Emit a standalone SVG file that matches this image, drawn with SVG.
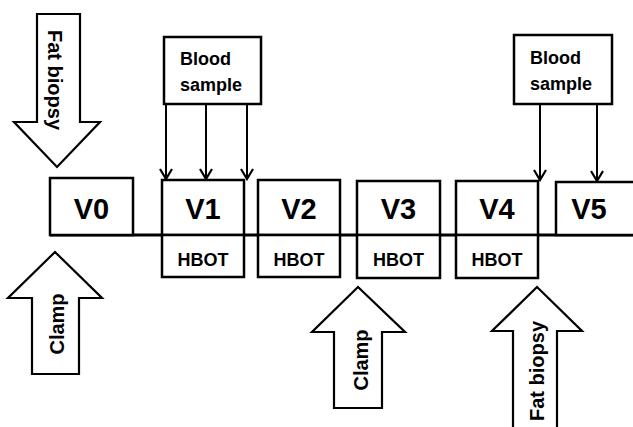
<svg xmlns="http://www.w3.org/2000/svg" width="633" height="427" viewBox="0 0 633 427">
<style>
.box{fill:#fff;stroke:#000;stroke-width:2.5}
.big{fill:#fff;stroke:#000;stroke-width:2.2;stroke-linejoin:miter}
.vt{font-family:"Liberation Sans",Arial,sans-serif;font-weight:bold;font-size:29px;text-anchor:middle;fill:#000}
.ht{font-family:"Liberation Sans",Arial,sans-serif;font-weight:bold;font-size:18px;text-anchor:middle;fill:#000}
.bt{font-family:"Liberation Sans",Arial,sans-serif;font-weight:bold;font-size:18px;fill:#000}
.at{font-family:"Liberation Sans",Arial,sans-serif;font-weight:bold;font-size:20px;text-anchor:middle;fill:#000}
.ln{stroke:#000;stroke-width:2;fill:none}
</style>
<defs>
<marker id="v" markerWidth="14" markerHeight="14" refX="12" refY="7" orient="auto" markerUnits="userSpaceOnUse" viewBox="0 0 14 14">
<path d="M2,1 L12,7 L2,13" fill="none" stroke="#000" stroke-width="2.2"/>
</marker>
</defs>
<rect width="633" height="427" fill="#fff"/>
<g id="timeline">
<line x1="50" y1="235" x2="633" y2="235" stroke="#000" stroke-width="3"/>
</g>
<g id="V0"><rect class="box" x="50" y="178" width="83" height="57"/><text class="vt" x="91.5" y="219">V0</text></g>
<g id="V1"><rect class="box" x="162" y="180" width="82" height="55"/><text class="vt" x="203" y="219">V1</text></g>
<g id="HBOT1"><rect class="box" x="162" y="235" width="82" height="42"/><text class="ht" x="203" y="266">HBOT</text></g>
<g id="V2"><rect class="box" x="258" y="180" width="82" height="55"/><text class="vt" x="299" y="219">V2</text></g>
<g id="HBOT2"><rect class="box" x="258" y="235" width="82" height="42"/><text class="ht" x="299" y="266">HBOT</text></g>
<g id="V3"><rect class="box" x="357" y="181" width="83" height="54"/><text class="vt" x="398.5" y="219">V3</text></g>
<g id="HBOT3"><rect class="box" x="357" y="235" width="83" height="43"/><text class="ht" x="398.5" y="266">HBOT</text></g>
<g id="V4"><rect class="box" x="456" y="181" width="82" height="54"/><text class="vt" x="497" y="219">V4</text></g>
<g id="HBOT4"><rect class="box" x="456" y="235" width="82" height="43"/><text class="ht" x="497" y="266">HBOT</text></g>
<g id="V5"><rect class="box" x="556" y="182" width="90" height="53"/><text class="vt" x="589" y="219">V5</text></g>
<g id="blood1"><rect class="box" x="164" y="37" width="97" height="67"/><text class="bt" x="180" y="65">Blood</text><text class="bt" x="180" y="91">sample</text></g>
<g id="blood2"><rect class="box" x="514" y="35" width="98" height="69"/><text class="bt" x="530" y="64">Blood</text><text class="bt" x="530" y="90">sample</text></g>
<g id="fatbiopsy1"><polygon class="big" points="37,14 80,14 80,122 100,122 57,167 14,122 37,122"/><text class="at" transform="translate(55,80) rotate(90)" y="7">Fat biopsy</text></g>
<g id="clamp1"><polygon class="big" points="55,252 102,298 79,298 79,374 32,374 32,298 8,298"/><text class="at" transform="translate(57,324) rotate(-90)" y="7" font-size="21">Clamp</text></g>
<g id="clamp2"><polygon class="big" points="358,287 405,332 382,332 382,408 334,408 334,332 312,332"/><text class="at" transform="translate(361,360) rotate(-90)" y="7" font-size="21">Clamp</text></g>
<g id="fatbiopsy2"><polyline class="big" points="513,427 513,331 492,331 537,287 582,331 557,331 557,427"/><text class="at" transform="translate(537,371) rotate(-90)" y="7">Fat biopsy</text></g>
<g id="connectors">
<line class="ln" x1="166" y1="104" x2="166" y2="179" marker-end="url(#v)"/>
<line class="ln" x1="206" y1="104" x2="206" y2="179" marker-end="url(#v)"/>
<line class="ln" x1="247" y1="104" x2="247" y2="179" marker-end="url(#v)"/>
<line class="ln" x1="540" y1="104" x2="540" y2="180" marker-end="url(#v)"/>
<line class="ln" x1="597" y1="104" x2="597" y2="181" marker-end="url(#v)"/>
</g>
</svg>
